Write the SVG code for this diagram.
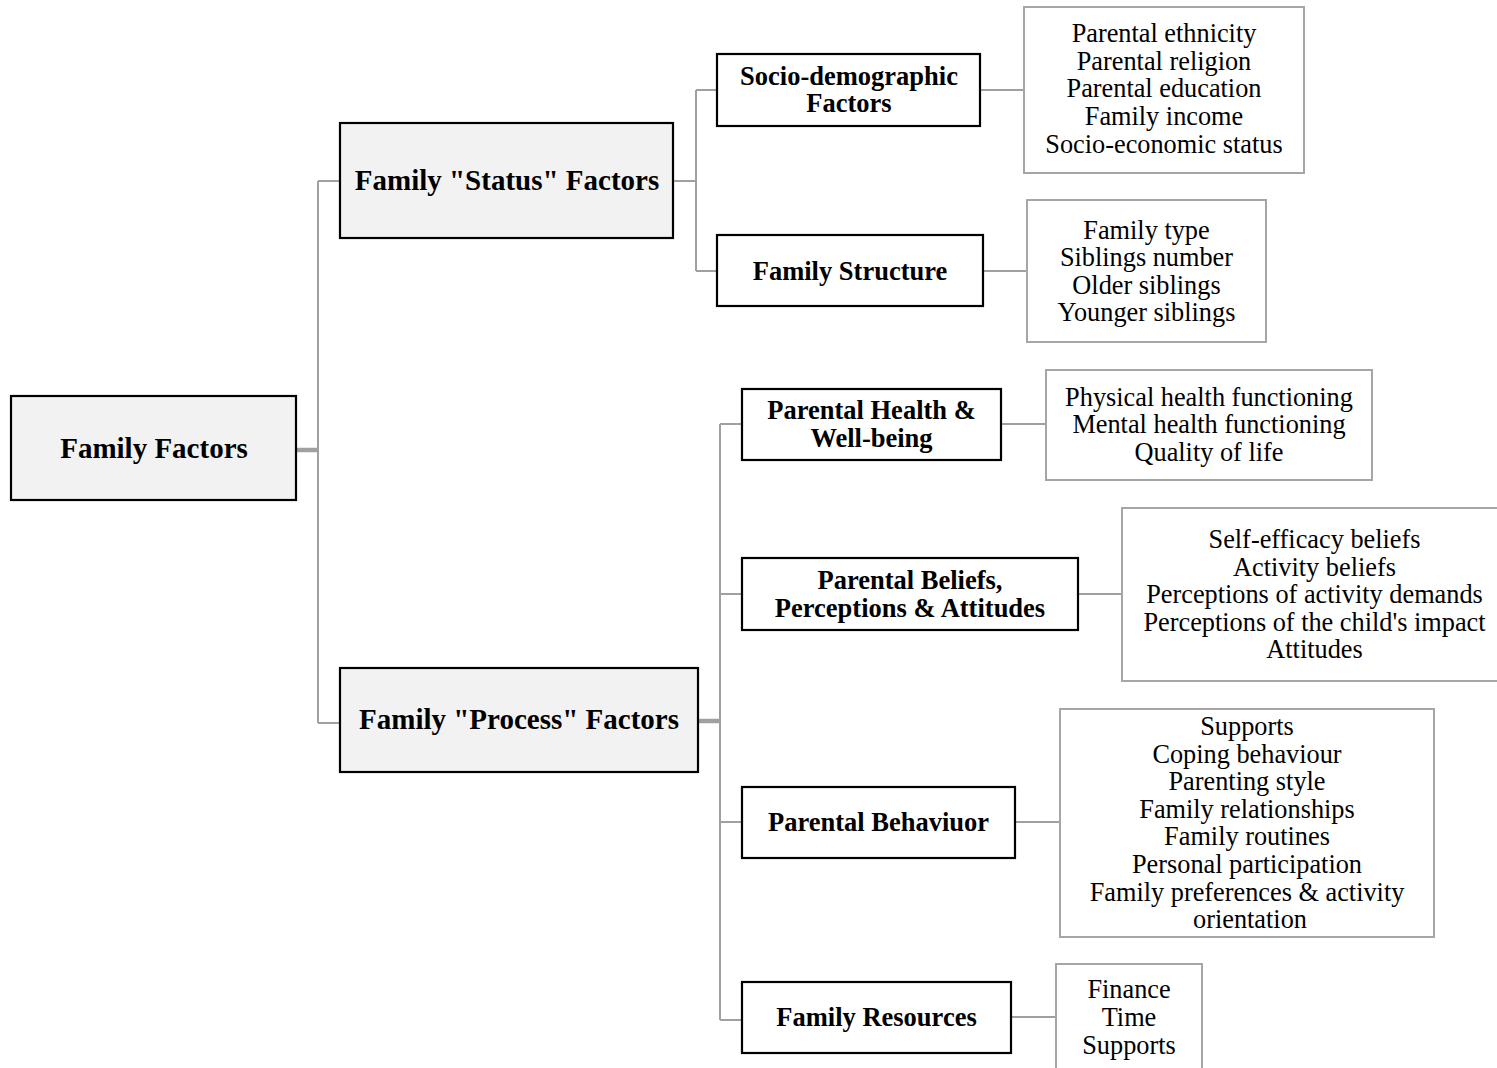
<svg xmlns="http://www.w3.org/2000/svg" width="1497" height="1068" viewBox="0 0 1497 1068">
<style>
.l1{fill:#f2f2f2;stroke:#000;stroke-width:2.2}
.l2{fill:#fff;stroke:#000;stroke-width:2.2}
.lf{fill:#fff;stroke:#a6a6a6;stroke-width:2}
.c{fill:none;stroke:#a0a0a0;stroke-width:2}
.ct{fill:none;stroke:#a0a0a0;stroke-width:4.5}
.b1{font-family:"Liberation Serif",serif;font-weight:bold;font-size:29px;text-anchor:middle;fill:#000}
.b2{font-family:"Liberation Serif",serif;font-weight:bold;font-size:26.5px;text-anchor:middle;fill:#000}
.t{font-family:"Liberation Serif",serif;font-size:26.3px;text-anchor:middle;fill:#000}
</style>
<rect width="1497" height="1068" fill="#fff"/>
<g id="connectors">
<path class="ct" d="M296 450H318"/>
<path class="c" d="M318 181V723M318 181H340M318 723H340"/>
<path class="c" d="M673 181H696M696 90V271M696 90H717M696 271H717"/>
<path class="c" d="M980 90H1024M983 271H1027"/>
<path class="ct" d="M698 721H720"/>
<path class="c" d="M720 424V1020M720 424H742M720 594H742M720 822H742M720 1020H742"/>
<path class="c" d="M1001 424H1046M1078 594H1122M1015 822H1060M1011 1017H1056"/>
</g>
<g id="family-factors">
<rect class="l1" x="11" y="396" width="285" height="104"/>
<text class="b1" x="154" y="458">Family Factors</text>
</g>
<g id="status">
<rect class="l1" x="340" y="123" width="333" height="115"/>
<text class="b1" x="507" y="190">Family "Status" Factors</text>
</g>
<g id="process">
<rect class="l1" x="340" y="668" width="358" height="104"/>
<text class="b1" x="519" y="729">Family "Process" Factors</text>
</g>
<g id="socio">
<rect class="l2" x="717" y="54" width="263" height="72"/>
<text class="b2" x="849" y="85">Socio-demographic</text>
<text class="b2" x="849" y="111.5">Factors</text>
</g>
<g id="structure">
<rect class="l2" x="717" y="235" width="266" height="71"/>
<text class="b2" x="850" y="280">Family Structure</text>
</g>
<g id="health">
<rect class="l2" x="742" y="389" width="259" height="71"/>
<text class="b2" x="871.5" y="419">Parental Health &amp;</text>
<text class="b2" x="871.5" y="446.5">Well-being</text>
</g>
<g id="beliefs">
<rect class="l2" x="742" y="558" width="336" height="72"/>
<text class="b2" x="910" y="589">Parental Beliefs,</text>
<text class="b2" x="910" y="617">Perceptions &amp; Attitudes</text>
</g>
<g id="behaviour">
<rect class="l2" x="742" y="787" width="273" height="71"/>
<text class="b2" x="878.5" y="831">Parental Behaviuor</text>
</g>
<g id="resources">
<rect class="l2" x="742" y="982" width="269" height="71"/>
<text class="b2" x="876.5" y="1026">Family Resources</text>
</g>
<g id="socio-items">
<rect class="lf" x="1024" y="7" width="280" height="166"/>
<text class="t" x="1164" y="42">Parental ethnicity</text>
<text class="t" x="1164" y="70">Parental religion</text>
<text class="t" x="1164" y="97">Parental education</text>
<text class="t" x="1164" y="125">Family income</text>
<text class="t" x="1164" y="153">Socio-economic status</text>
</g>
<g id="structure-items">
<rect class="lf" x="1027" y="200" width="239" height="142"/>
<text class="t" x="1146.5" y="239">Family type</text>
<text class="t" x="1146.5" y="266">Siblings number</text>
<text class="t" x="1146.5" y="294">Older siblings</text>
<text class="t" x="1146.5" y="321">Younger siblings</text>
</g>
<g id="health-items">
<rect class="lf" x="1046" y="370" width="326" height="110"/>
<text class="t" x="1209" y="406">Physical health functioning</text>
<text class="t" x="1209" y="433">Mental health functioning</text>
<text class="t" x="1209" y="461">Quality of life</text>
</g>
<g id="beliefs-items">
<rect class="lf" x="1122" y="508" width="385" height="173"/>
<text class="t" x="1314.5" y="548">Self-efficacy beliefs</text>
<text class="t" x="1314.5" y="576">Activity beliefs</text>
<text class="t" x="1314.5" y="603">Perceptions of activity demands</text>
<text class="t" x="1314.5" y="631">Perceptions of the child's impact</text>
<text class="t" x="1314.5" y="658">Attitudes</text>
</g>
<g id="behaviour-items">
<rect class="lf" x="1060" y="709" width="374" height="228"/>
<text class="t" x="1247" y="735">Supports</text>
<text class="t" x="1247" y="763">Coping behaviour</text>
<text class="t" x="1247" y="790">Parenting style</text>
<text class="t" x="1247" y="818">Family relationships</text>
<text class="t" x="1247" y="845">Family routines</text>
<text class="t" x="1247" y="873">Personal participation</text>
<text class="t" x="1247" y="901">Family preferences &amp; activity</text>
<text class="t" x="1250" y="928">orientation</text>
</g>
<g id="resources-items">
<rect class="lf" x="1056" y="964" width="146" height="115"/>
<text class="t" x="1129" y="998">Finance</text>
<text class="t" x="1129" y="1026">Time</text>
<text class="t" x="1129" y="1054">Supports</text>
</g>
</svg>
